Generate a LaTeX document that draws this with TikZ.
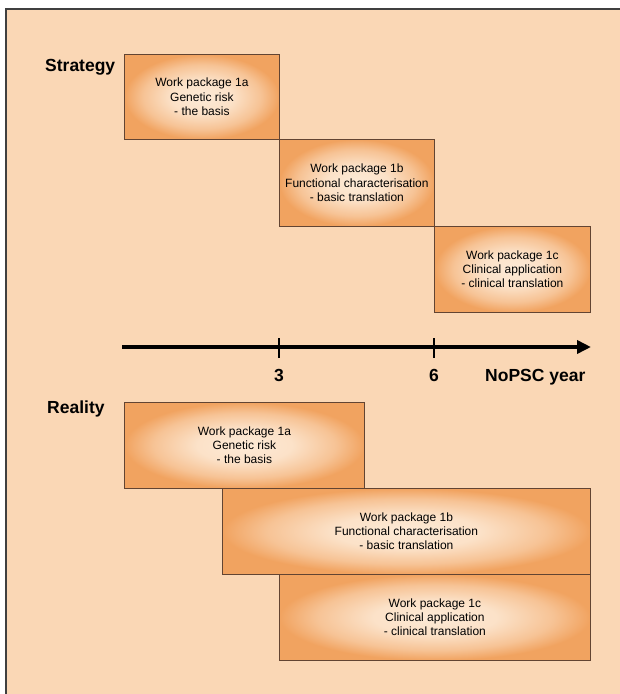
\documentclass[tikz,border=0pt]{standalone}
\usepackage{fontspec}
\setmainfont{Liberation Sans}
\usetikzlibrary{arrows.meta}
\definecolor{bgpeach}{RGB}{250,215,181}
\definecolor{wpedge}{RGB}{241,163,96}
\definecolor{wpcentre}{RGB}{253,234,214}
\definecolor{wpline}{RGB}{98,68,50}
\pgfdeclareradialshading{wpglow}{\pgfpoint{0bp}{0bp}}{color(0bp)=(wpcentre); color(10bp)=(wpcentre!88!wpedge); color(19bp)=(wpcentre!45!wpedge); color(25bp)=(wpedge); color(50bp)=(wpedge)}
\begin{document}
\begin{tikzpicture}[x=1pt,y=-1pt,
				wp/.style={draw=wpline, line width=0.8pt, shading=wpglow,
					anchor=north west, align=center, inner sep=0pt,
					font=\fontsize{12}{14.3}\selectfont},
				phase/.style={anchor=base west, inner sep=0pt, font=\fontsize{17.5}{20}\selectfont\bfseries},
				yr/.style={anchor=base, inner sep=0pt, font=\fontsize{17.5}{20}\selectfont\bfseries}]
\useasboundingbox (0,0) rectangle (620,694);
\fill[bgpeach] (6,9) rectangle (620,694);
\draw[line width=1.5pt, black!75] (6,694) -- (6,9) -- (620,9);
% strategy
\node[phase] (strategy) at (45,71) {Strategy};
\node[wp, minimum width=155pt, minimum height=85pt] (s1a) at (124,54) {Work package 1a\\Genetic risk\\- the basis};
\node[wp, minimum width=155pt, minimum height=87pt] (s1b) at (279,139) {Work package 1b\\Functional characterisation\\- basic translation};
\node[wp, minimum width=156pt, minimum height=86pt] (s1c) at (434,226) {Work package 1c\\Clinical application\\- clinical translation};
% time axis
\coordinate (axstart) at (122,347);
\coordinate (axend) at (591,347);
\draw[line width=4pt, -{Triangle[length=14pt,width=13pt]}] (axstart) -- (axend);
\draw[line width=1.6pt] (279,338) -- (279,358);
\draw[line width=1.6pt] (434,338) -- (434,358);
\node[yr] (yr3) at (279,381) {3};
\node[yr] (yr6) at (434,381) {6};
\node[phase] (yrname) at (485,381) {NoPSC year};
% reality
\node[phase] (reality) at (47,413) {Reality};
\node[wp, minimum width=240pt, minimum height=86pt] (r1a) at (124,402) {Work package 1a\\Genetic risk\\- the basis};
\node[wp, minimum width=368pt, minimum height=86pt] (r1b) at (222,488) {Work package 1b\\Functional characterisation\\- basic translation};
\node[wp, minimum width=311pt, minimum height=86pt] (r1c) at (279,574) {Work package 1c\\Clinical application\\- clinical translation};
\end{tikzpicture}
\end{document}
